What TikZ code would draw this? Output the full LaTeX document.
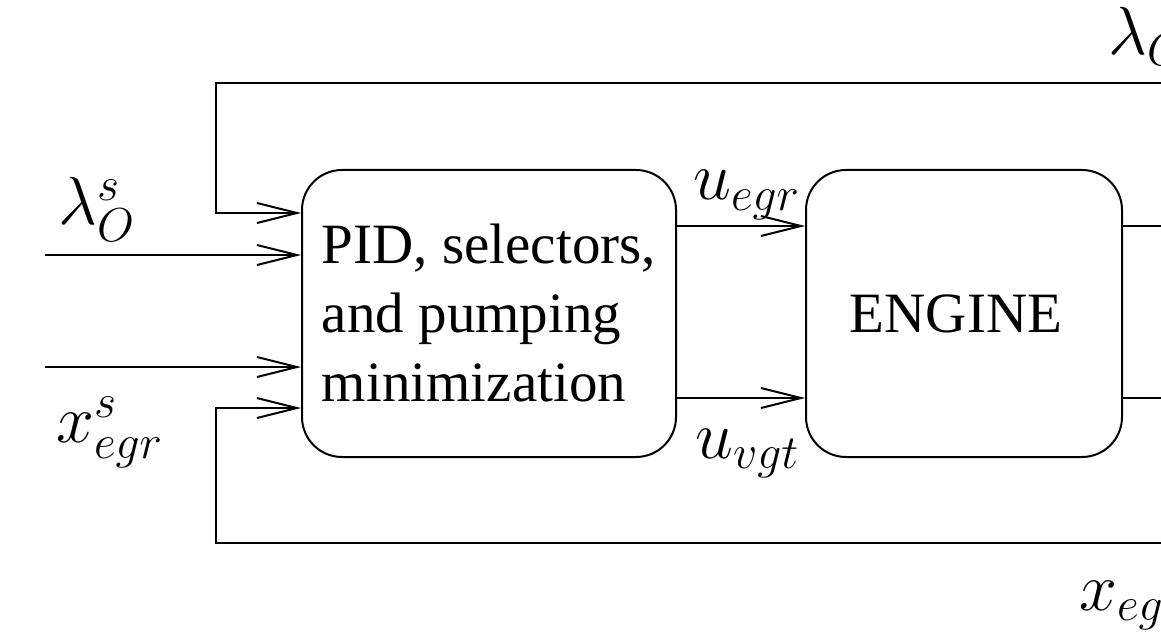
\RequirePackage{fix-cm}
\documentclass[tikz,border=0pt]{standalone}
\usepackage{fontspec}
\setmainfont{Liberation Serif}
\usetikzlibrary{arrows.meta,calc}
\tikzset{
  big/.style={font=\fontsize{57}{69}\selectfont},
  mathbig/.style={font=\fontsize{68}{80}\selectfont},
  blockbox/.style={draw, line width=2pt, rounded corners=40pt, inner sep=0pt, big},
  arr/.style={line width=2pt, -{Straight Barb[length=40pt,width=20pt,line width=2pt]}},
  wire/.style={line width=2pt},
  lbl/.style={mathbig, inner sep=0pt, anchor=base west},
}
\begin{document}
\begin{tikzpicture}[x=1pt,y=-1pt]
\useasboundingbox (0,0) rectangle (1161,636);
\clip (0,0) rectangle (1161,636);
\node[blockbox, minimum width=374pt, minimum height=287pt, align=left] (ctrl) at (489,313.5)
  {PID, selectors,\\and pumping\\minimization};
\node[blockbox, minimum width=316pt, minimum height=287pt] (eng) at (964,313.5) {\hspace*{-16pt}ENGINE};
% coordinates
\coordinate (tr) at (1175,83);
\coordinate (t1) at (216,213);
\coordinate (br) at (1175,543);
\coordinate (b1) at (216,408);
\coordinate (inL) at (45,255);
\coordinate (inX) at (45,367);
\coordinate (yA) at (0,226);
\coordinate (yB) at (0,398);
\coordinate (oA) at (1175,226);
\coordinate (oB) at (1175,398);
% connectors
\draw[arr] (tr) -| (t1) -- (t1 -| ctrl.west);
\draw[arr] (inL) -- (inL -| ctrl.west);
\draw[arr] (inX) -- (inX -| ctrl.west);
\draw[arr] (br) -| (b1) -- (b1 -| ctrl.west);
\draw[arr] (ctrl.east |- yA) -- (eng.west |- yA);
\draw[arr] (ctrl.east |- yB) -- (eng.west |- yB);
\draw[wire] (eng.east |- yA) -- (oA);
\draw[wire] (eng.east |- yB) -- (oB);
% labels
\node[lbl] (lamS) at (58,225) {$\lambda_O^s$};
\node[lbl] (xS) at (56,442) {$x_{egr}^s$};
\node[lbl] (uE) at (693,200) {$u_{egr}$};
\node[lbl] (uV) at (695,458) {$u_{vgt}$};
\node[lbl] (lamO) at (1108,55) {$\lambda_O$};
\node[lbl] (xE) at (1079,610) {$x_{egr}$};
\end{tikzpicture}
\end{document}
